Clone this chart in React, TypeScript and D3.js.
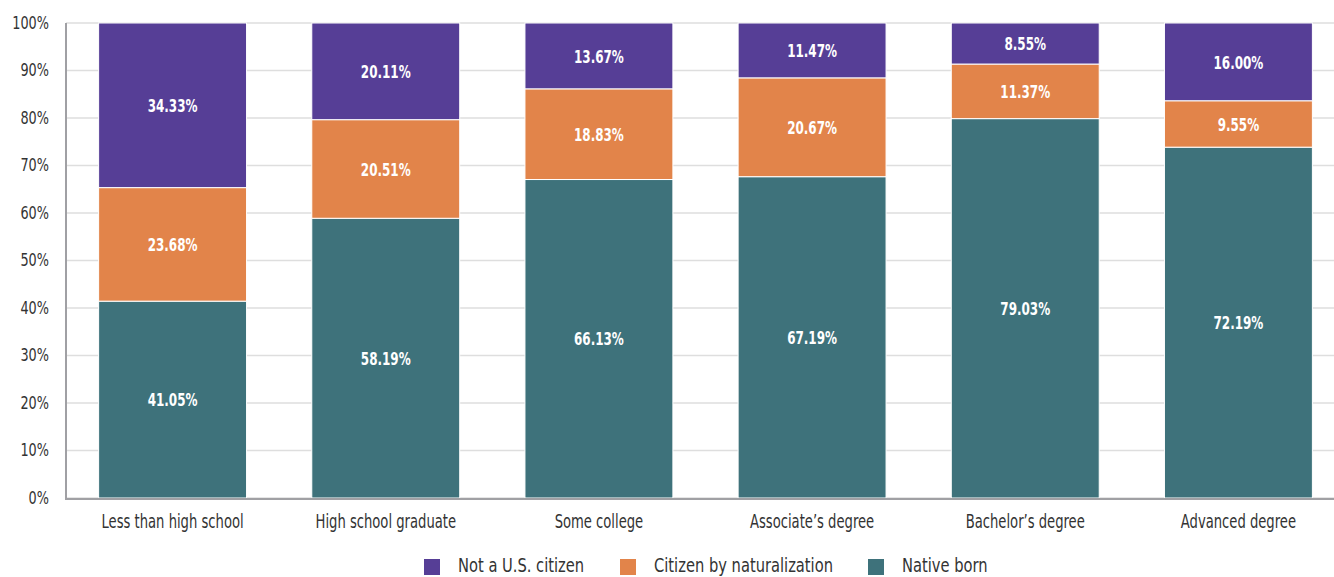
import React from "react";
import * as d3 from "d3";

const categories = [
  "Less than high school",
  "High school graduate",
  "Some college",
  "Associate\u2019s degree",
  "Bachelor\u2019s degree",
  "Advanced degree",
];
const nativeBorn = [41.05, 58.19, 66.13, 67.19, 79.03, 72.19];
const naturalized = [23.68, 20.51, 18.83, 20.67, 11.37, 9.55];
const notCitizen = [34.33, 20.11, 13.67, 11.47, 8.55, 16.0];
const yTicks = [0, 10, 20, 30, 40, 50, 60, 70, 80, 90, 100];

const seriesDefs = [
  { key: "native", name: "Native born", values: nativeBorn, color: "#3e727b" },
  { key: "nat", name: "Citizen by naturalization", values: naturalized, color: "#e2844a" },
  { key: "not", name: "Not a U.S. citizen", values: notCitizen, color: "#563e96" },
];
const legendOrder = ["not", "nat", "native"];

const W = 1334;
const H = 577;
const FONT = "'DejaVu Sans Condensed', 'DejaVu Sans', sans-serif";

function Label(props: any) {
  const { x, y, sx, children, ...rest } = props;
  return (
    <text transform={`translate(${x},${y}) scale(${sx},1)`} {...rest}>
      {children}
    </text>
  );
}

export default function App() {
  const x = d3
    .scaleBand<string>()
    .domain(categories)
    .range([66, 1345])
    .paddingInner(0.306)
    .paddingOuter(0.153);
  const y = d3.scaleLinear().domain([0, 100]).range([498, 23]);

  const rows = categories.map((c, i) => {
    const total = nativeBorn[i] + naturalized[i] + notCitizen[i];
    const r: any = { cat: c };
    seriesDefs.forEach((s) => (r[s.key] = (s.values[i] / total) * 100));
    return r;
  });
  const stack = d3.stack<any>().keys(seriesDefs.map((s) => s.key));
  const stacked = stack(rows);

  const legendPos: Record<string, number> = { not: 424, nat: 620, native: 868 };

  return (
    <svg
      width={W}
      height={H}
      style={{ position: "absolute", left: 0, top: 0, background: "#fff" }}
      fontFamily={FONT}
    >
      {yTicks.map((t) => (
        <g key={t}>
          <line x1={66} x2={W} y1={y(t)} y2={y(t)} stroke="#dedede" strokeWidth={1.5} />
          <Label x={49} y={y(t)} sx={0.84} dy="0.35em" textAnchor="end" fontSize={17} fill="#333">
            {t}%
          </Label>
        </g>
      ))}
      {stacked.map((layer, li) => {
        const s = seriesDefs[li];
        return (
          <g key={s.key}>
            {layer.map((d, i) => {
              const x0 = x(categories[i])!;
              const y0 = y(d[1]);
              const y1 = y(d[0]);
              return (
                <g key={i}>
                  <rect
                    x={x0}
                    y={y0}
                    width={x.bandwidth()}
                    height={y1 - y0}
                    fill={s.color}
                    stroke="#fff"
                    strokeWidth={1}
                  />
                  <Label
                    x={x0 + x.bandwidth() / 2}
                    y={(y0 + y1) / 2}
                    sx={0.72}
                    dy="0.36em"
                    textAnchor="middle"
                    fontSize={18.5}
                    fontWeight="bold"
                    fill="#fff"
                  >
                    {s.values[i].toFixed(2)}%
                  </Label>
                </g>
              );
            })}
          </g>
        );
      })}
      <line x1={66} x2={66} y1={23} y2={499} stroke="#a0a0a4" strokeWidth={2} />
      <line x1={65} x2={W} y1={499} y2={499} stroke="#a0a0a4" strokeWidth={2} />
      {categories.map((c) => (
        <Label
          key={c}
          x={x(c)! + x.bandwidth() / 2}
          y={521}
          sx={0.77}
          dy="0.36em"
          textAnchor="middle"
          fontSize={19}
          fill="#333"
        >
          {c}
        </Label>
      ))}
      {legendOrder.map((k) => {
        const s = seriesDefs.find((d) => d.key === k)!;
        const lx = legendPos[k];
        return (
          <g key={k}>
            <rect x={lx} y={559} width={16} height={16} fill={s.color} />
            <Label x={lx + 34} y={572} sx={0.86} fontSize={19} fill="#333">
              {s.name}
            </Label>
          </g>
        );
      })}
    </svg>
  );
}
